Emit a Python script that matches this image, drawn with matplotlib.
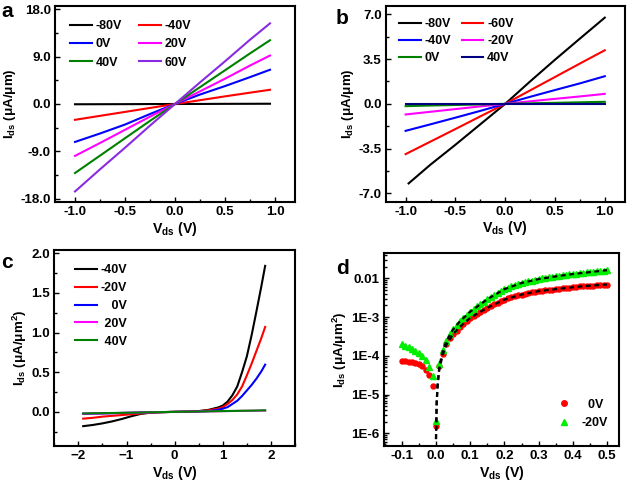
import numpy as np
import matplotlib
matplotlib.use("Agg")
import matplotlib.pyplot as plt
from matplotlib.ticker import MultipleLocator, LogLocator, FixedLocator, FixedFormatter, NullFormatter

plt.rcParams['font.family'] = ['Liberation Sans', 'DejaVu Sans']
plt.rcParams['font.weight'] = 'bold'
plt.rcParams['mathtext.fontset'] = 'custom'
plt.rcParams['mathtext.rm'] = 'Liberation Sans'
plt.rcParams['mathtext.it'] = 'Liberation Sans:italic'
plt.rcParams['mathtext.bf'] = 'Liberation Sans:bold'

# ---------------- Panel a ----------------
a_vds = [-1.0, -0.75, -0.5, -0.25, 0.0, 0.25, 0.5, 0.75, 0.95]
a_labels = ['-80V', '-40V', '0V', '20V', '40V', '60V']
a_m80 = [-0.05, -0.04, -0.03, -0.01, 0.0, 0.01, 0.03, 0.04, 0.05]
a_m40 = [-3.0, -2.25, -1.5, -0.75, 0.0, 0.72, 1.45, 2.15, 2.7]
a_0 = [-7.2, -5.6, -3.9, -1.9, 0.0, 1.8, 3.4, 5.1, 6.5]
a_20 = [-9.85, -7.4, -4.9, -2.4, 0.0, 2.4, 4.8, 7.3, 9.2]
a_40 = [-13.1, -9.8, -6.5, -3.2, 0.0, 3.2, 6.4, 9.6, 12.1]
a_60 = [-16.6, -12.4, -8.3, -4.1, 0.0, 4.1, 8.1, 12.2, 15.3]
a_colors = ['#000000', '#ff0000', '#0000ff', '#ff00ff', '#008000', '#8a2be2']

# ---------------- Panel b ----------------
b_vds = [-1.0, -0.75, -0.5, -0.25, 0.0, 0.25, 0.5, 0.75, 1.0]
b_vds_m80 = [-0.97, -0.75, -0.5, -0.25, 0.0, 0.25, 0.5, 0.75, 1.0]
b_labels = ['-80V', '-60V', '-40V', '-20V', '0V', '40V']
b_m80 = [-6.22, -4.75, -3.2, -1.6, 0.0, 1.75, 3.45, 5.1, 6.74]
b_m60 = [-3.93, -2.95, -1.97, -0.98, 0.0, 1.05, 2.1, 3.15, 4.19]
b_m40 = [-2.11, -1.6, -1.08, -0.55, 0.0, 0.55, 1.08, 1.6, 2.16]
b_m20 = [-0.83, -0.62, -0.41, -0.2, 0.0, 0.2, 0.39, 0.58, 0.78]
b_0 = [-0.18, -0.13, -0.09, -0.045, 0.0, 0.04, 0.08, 0.12, 0.16]
b_40 = [0.02, 0.02, 0.02, 0.02, 0.02, 0.02, 0.02, 0.02, 0.02]
b_colors = ['#000000', '#ff0000', '#0000ff', '#ff00ff', '#008000', '#000080']

# ---------------- Panel c ----------------
c_vds = [-1.9, -1.7, -1.5, -1.3, -1.1, -0.9, -0.7, -0.5, -0.3, 0.0, 0.3, 0.5,
         0.7, 0.9, 1.0, 1.1, 1.2, 1.3, 1.4, 1.5, 1.6, 1.7, 1.8, 1.88]
c_labels = ['-40V', '-20V', '   0V', ' 20V', ' 40V']
c_m40 = [-0.18, -0.165, -0.145, -0.12, -0.09, -0.055, -0.025, -0.01, -0.004, 0.0, 0.004, 0.01,
         0.025, 0.055, 0.08, 0.13, 0.21, 0.32, 0.50, 0.70, 0.97, 1.27, 1.58, 1.84]
c_m20 = [-0.085, -0.075, -0.06, -0.05, -0.04, -0.03, -0.02, -0.01, -0.004, 0.0, 0.003, 0.008,
         0.02, 0.04, 0.06, 0.10, 0.15, 0.22, 0.32, 0.46, 0.61, 0.77, 0.93, 1.07]
c_0 = [-0.025, -0.022, -0.02, -0.017, -0.014, -0.011, -0.008, -0.005, -0.003, 0.0, 0.002, 0.005,
       0.01, 0.025, 0.04, 0.06, 0.10, 0.14, 0.20, 0.27, 0.34, 0.42, 0.51, 0.595]
c_20 = [-0.022, -0.02, -0.018, -0.015, -0.013, -0.011, -0.008, -0.006, -0.003, 0.0, 0.002, 0.004,
        0.006, 0.008, 0.009, 0.010, 0.011, 0.012, 0.013, 0.013, 0.014, 0.015, 0.016, 0.016]
c_40 = [-0.02, -0.018, -0.016, -0.014, -0.012, -0.01, -0.008, -0.005, -0.003, 0.0, 0.003, 0.005,
        0.007, 0.009, 0.01, 0.011, 0.012, 0.013, 0.014, 0.015, 0.016, 0.017, 0.019, 0.02]
c_colors = ['#000000', '#ff0000', '#0000ff', '#ff00ff', '#008000']

# ---------------- Panel d ----------------
d_vds = [-0.10, -0.09, -0.08, -0.07, -0.06, -0.05, -0.04, -0.03, -0.02, -0.01, 0.00,
         0.01, 0.02, 0.03, 0.04, 0.05, 0.06, 0.07, 0.08, 0.09, 0.10,
         0.11, 0.12, 0.13, 0.14, 0.15, 0.16, 0.17, 0.18, 0.19, 0.20,
         0.21, 0.22, 0.23, 0.24, 0.25, 0.26, 0.27, 0.28, 0.29, 0.30,
         0.31, 0.32, 0.33, 0.34, 0.35, 0.36, 0.37, 0.38, 0.39, 0.40,
         0.41, 0.42, 0.43, 0.44, 0.45, 0.46, 0.47, 0.48, 0.49, 0.50]
# log10 of I_ds (uA/um^2)
d_log_0V = [-4.13, -4.14, -4.15, -4.16, -4.18, -4.21, -4.27, -4.36, -4.50, -4.78, -5.82,
            -4.27, -3.95, -3.70, -3.55, -3.44, -3.35, -3.25, -3.17, -3.09, -3.02,
            -2.96, -2.91, -2.86, -2.81, -2.76, -2.71, -2.67, -2.63, -2.59, -2.55,
            -2.52, -2.49, -2.46, -2.44, -2.42, -2.40, -2.38, -2.36, -2.35, -2.33,
            -2.32, -2.31, -2.30, -2.29, -2.28, -2.27, -2.26, -2.25, -2.24, -2.23,
            -2.22, -2.21, -2.21, -2.20, -2.19, -2.19, -2.18, -2.17, -2.17, -2.16]
d_log_m20V = [-3.70, -3.74, -3.78, -3.83, -3.88, -3.94, -4.01, -4.10, -4.28, -4.52, -5.68,
              -4.20, -3.85, -3.62, -3.45, -3.32, -3.21, -3.11, -3.02, -2.94, -2.86,
              -2.79, -2.72, -2.66, -2.60, -2.54, -2.48, -2.43, -2.38, -2.33, -2.28,
              -2.24, -2.21, -2.18, -2.15, -2.12, -2.10, -2.08, -2.06, -2.04, -2.02,
              -2.00, -1.99, -1.97, -1.96, -1.95, -1.94, -1.92, -1.91, -1.90, -1.89,
              -1.88, -1.87, -1.86, -1.85, -1.84, -1.83, -1.82, -1.81, -1.80, -1.79]
d_fit_vds = [0.0, 0.002, 0.005, 0.01, 0.02, 0.03, 0.05, 0.07, 0.10, 0.15,
             0.20, 0.25, 0.30, 0.35, 0.40, 0.45, 0.50]
d_fit_log_0V = [-6.15, -5.2, -4.75, -4.33, -3.97, -3.72, -3.44, -3.25, -3.02, -2.76,
                -2.55, -2.42, -2.33, -2.28, -2.23, -2.19, -2.16]
d_fit_log_m20V = [-6.15, -5.2, -4.70, -4.26, -3.87, -3.63, -3.32, -3.11, -2.86, -2.54,
                  -2.28, -2.12, -2.02, -1.95, -1.89, -1.84, -1.79]
d_labels = ['  0V', '-20V']

# ---------------- Figure ----------------
fig = plt.figure(figsize=(6.27, 4.86), dpi=100)

ax_a = fig.add_axes([55/627, 1-202/486, 240/627, 196/486])
ax_b = fig.add_axes([385.7/627, 1-201.7/486, 239/627, 195.7/486])
ax_c = fig.add_axes([54.3/627, 1-446/486, 240.7/627, 196/486])
ax_d = fig.add_axes([384/627, 1-446/486, 235/627, 193/486])

tick_fs = 9.6
xlab_fs = 10.2
ylab_fs = 9.6
leg_fs = 9.0

def style(ax):
    for s in ax.spines.values():
        s.set_linewidth(1.5)
    ax.tick_params(which='both', direction='in', top=False, right=False,
                   labelsize=tick_fs, width=1.0, pad=3)
    ax.tick_params(which='major', length=3.5)
    ax.tick_params(which='minor', length=2.0)
    for t in ax.get_xticklabels() + ax.get_yticklabels():
        t.set_fontweight('bold')

lw = 1.5
ylab_lin = 'I$_{\\mathregular{ds}}$ (μA/μm)'
ylab_sq = 'I$_{\\mathregular{ds}}$ (μA/μm$^{\\mathregular{2}}$)'
xlab = 'V$_{\\mathregular{ds}}$ (V)'

def labels(ax, ylab):
    ax.set_xlabel(xlab, fontsize=xlab_fs, fontweight='bold', labelpad=1)
    ax.set_ylabel(ylab, fontsize=ylab_fs, fontweight='bold', labelpad=2)

leg_kw = dict(frameon=False, prop={'weight': 'bold', 'size': leg_fs},
              handlelength=1.75, handletextpad=0.3)

# Panel a
a_series = [a_m80, a_m40, a_0, a_20, a_40, a_60]
a_lines = []
for ys, c, l in zip(a_series, a_colors, a_labels):
    ln, = ax_a.plot(a_vds, ys, color=c, lw=lw, label=l)
    a_lines.append(ln)
ax_a.set_xlim(-1.2, 1.2)
ax_a.set_ylim(-18.6, 18.6)
ax_a.xaxis.set_major_locator(MultipleLocator(0.5))
ax_a.xaxis.set_minor_locator(MultipleLocator(0.25))
ax_a.yaxis.set_major_locator(MultipleLocator(9))
ax_a.yaxis.set_minor_locator(MultipleLocator(4.5))
ax_a.xaxis.set_major_formatter(matplotlib.ticker.FormatStrFormatter('%.1f'))
ax_a.yaxis.set_major_formatter(matplotlib.ticker.FormatStrFormatter('%.1f'))
order = [0, 2, 4, 1, 3, 5]
ax_a.legend([a_lines[i] for i in order], [a_labels[i] for i in order], ncol=2,
            loc='upper left', bbox_to_anchor=(0.015, 0.985),
            labelspacing=0.5, columnspacing=1.35, **leg_kw)
style(ax_a)
labels(ax_a, ylab_lin)

# Panel b
b_series = [b_m80, b_m60, b_m40, b_m20, b_0, b_40]
b_lines = []
for i, (ys, c, l) in enumerate(zip(b_series, b_colors, b_labels)):
    xs = b_vds_m80 if i == 0 else b_vds
    ln, = ax_b.plot(xs, ys, color=c, lw=lw, label=l)
    b_lines.append(ln)
ax_b.set_xlim(-1.2, 1.2)
ax_b.set_ylim(-7.65, 7.65)
ax_b.xaxis.set_major_locator(MultipleLocator(0.5))
ax_b.xaxis.set_minor_locator(MultipleLocator(0.25))
ax_b.yaxis.set_major_locator(MultipleLocator(3.5))
ax_b.yaxis.set_minor_locator(MultipleLocator(1.75))
ax_b.xaxis.set_major_formatter(matplotlib.ticker.FormatStrFormatter('%.1f'))
ax_b.yaxis.set_major_formatter(matplotlib.ticker.FormatStrFormatter('%.1f'))
ax_b.legend([b_lines[i] for i in order], [b_labels[i] for i in order], ncol=2,
            loc='upper left', bbox_to_anchor=(0.01, 0.995),
            labelspacing=0.4, columnspacing=0.8, **leg_kw)
style(ax_b)
labels(ax_b, ylab_lin)

# Panel c
c_series = [c_m40, c_m20, c_0, c_20, c_40]
for ys, c, l in zip(c_series, c_colors, c_labels):
    ax_c.plot(c_vds, ys, color=c, lw=lw, label=l)
ax_c.set_xlim(-2.5, 2.5)
ax_c.set_ylim(-0.43, 2.04)
ax_c.xaxis.set_major_locator(MultipleLocator(1))
ax_c.xaxis.set_minor_locator(MultipleLocator(0.5))
ax_c.yaxis.set_major_locator(FixedLocator([0.0, 0.5, 1.0, 1.5, 2.0]))
ax_c.yaxis.set_minor_locator(FixedLocator([-0.25, 0.25, 0.75, 1.25, 1.75]))
ax_c.yaxis.set_major_formatter(matplotlib.ticker.FormatStrFormatter('%.1f'))
ax_c.legend(loc='upper left', bbox_to_anchor=(0.04, 0.985),
            labelspacing=0.47, **leg_kw)
style(ax_c)
labels(ax_c, ylab_sq)

# Panel d
ax_d.set_yscale('log')
ax_d.plot(d_vds, 10 ** np.array(d_log_0V), 'o', color='#ff0000', ms=3.6, mec='#ff0000',
          label=d_labels[0], zorder=2)
ax_d.plot(d_vds, 10 ** np.array(d_log_m20V), '^', color='#00ee00', ms=4.0, mec='#00ee00',
          label=d_labels[1], zorder=2)
ax_d.plot(d_fit_vds, 10 ** np.array(d_fit_log_0V), '--', color='black', lw=1.6,
          dashes=(2.2, 1.6), zorder=3)
ax_d.plot(d_fit_vds, 10 ** np.array(d_fit_log_m20V), '--', color='black', lw=1.6,
          dashes=(2.2, 1.6), zorder=3)
ax_d.set_xlim(-0.152, 0.535)
ax_d.set_ylim(4.7e-7, 4.5e-2)
ax_d.xaxis.set_major_locator(MultipleLocator(0.1))
ax_d.xaxis.set_minor_locator(MultipleLocator(0.05))
ax_d.xaxis.set_major_formatter(matplotlib.ticker.FormatStrFormatter('%.1f'))
ax_d.yaxis.set_major_locator(FixedLocator([1e-6, 1e-5, 1e-4, 1e-3, 1e-2]))
ax_d.yaxis.set_major_formatter(FixedFormatter(['1E-6', '1E-5', '1E-4', '1E-3', '0.01']))
ax_d.yaxis.set_minor_locator(LogLocator(base=10, subs=np.arange(2, 10), numticks=20))
ax_d.yaxis.set_minor_formatter(NullFormatter())
ax_d.legend(loc='lower right', bbox_to_anchor=(1.0, 0.03), frameon=False,
            prop={'weight': 'bold', 'size': leg_fs}, handlelength=1.0,
            labelspacing=0.5, handletextpad=0.9, markerscale=1.1)
style(ax_d)
labels(ax_d, ylab_sq)

# Panel letters
fig.text(1/627, 1-17/486, 'a', fontsize=15, fontweight='bold', va='baseline')
fig.text(336/627, 1-24/486, 'b', fontsize=15, fontweight='bold', va='baseline')
fig.text(1/627, 1-268/486, 'c', fontsize=15, fontweight='bold', va='baseline')
fig.text(336/627, 1-274/486, 'd', fontsize=15, fontweight='bold', va='baseline')

fig.savefig('out.png', dpi=100)
